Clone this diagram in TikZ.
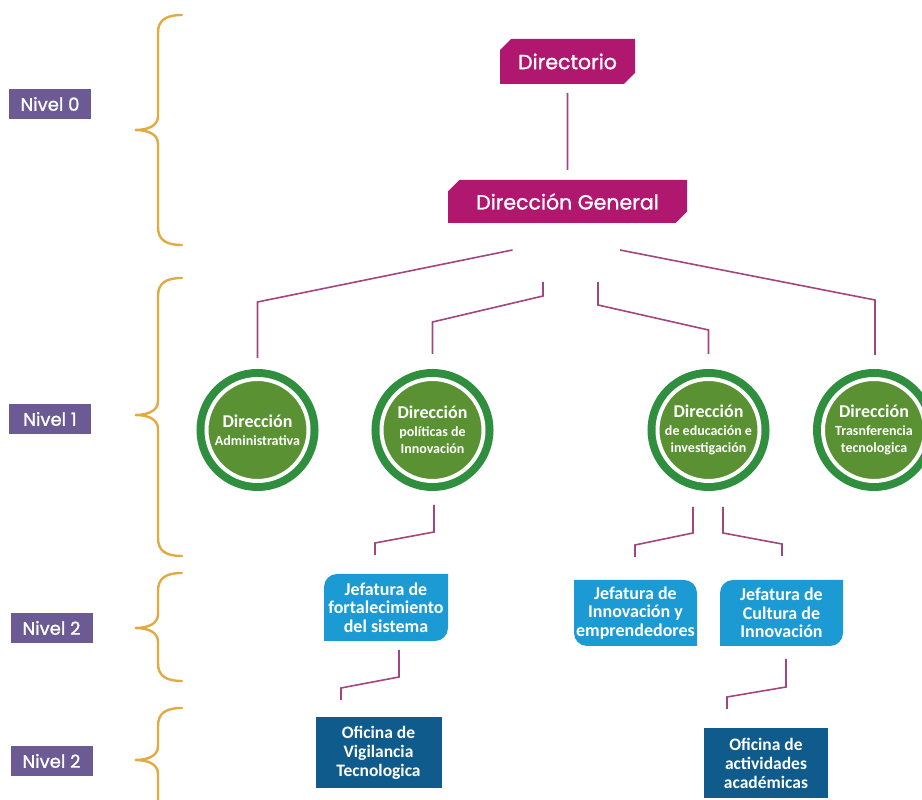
\documentclass[tikz,border=0pt]{standalone}
\usepackage{fontspec}
\setmainfont{Carlito}
\newfontfamily\poppins{Poppins}[FakeBold=1.2]
\usetikzlibrary{positioning, shapes.misc, backgrounds}

\definecolor{rosadir}{HTML}{B0176E}
\definecolor{morado}{HTML}{6B5A93}
\definecolor{oro}{HTML}{E2AA42}
\definecolor{lila}{HTML}{A3467F}
\definecolor{anillo}{HTML}{2F8F3E}
\definecolor{verde}{HTML}{5A9233}
\definecolor{celeste}{HTML}{1C9AD3}
\definecolor{marino}{HTML}{0E5B8C}

\begin{document}
\begin{tikzpicture} [x=1pt, y=1pt,
            nivel/.style = {fill=morado, text=white,
                font=\poppins\fontsize{18}{20}\selectfont,
                minimum width=82, minimum height=30, inner sep=0},
            llave/.style = {draw=oro, line width=2.4pt, line cap=round},
            titulo/.style = {chamfered rectangle,
                chamfered rectangle corners={north west, south east},
                chamfered rectangle xsep=9pt,
                fill=rosadir, text=white, inner sep=0, outer sep=0,
                font=\poppins\fontsize{20.5}{24}\selectfont},
            direc/.style = {circle, fill=verde, draw=white,
                line width=4pt, minimum size=102, inner sep=0,
                outer sep=10pt, text=white, align=center,
                font=\bfseries\fontsize{14}{17.5}\selectfont,
                preaction={draw=anillo, line width=20pt}},
            jefa/.style = {text=white, align=center, inner sep=0,
                outer sep=0, minimum width=124, minimum height=67,
                font=\bfseries\fontsize{18}{18.5}\selectfont},
            oficina/.style = {fill=marino, text=white, align=center,
                inner sep=0, outer sep=0, minimum width=126,
                minimum height=70,
                font=\bfseries\fontsize{17.5}{19}\selectfont},
            linea/.style = {draw=lila, line width=1.6pt}]

        \useasboundingbox (0,0) rectangle (922,800);

        % Niveles
        \node (n0) [nivel] at (50,696)   {Nivel 0};
        \node (n1) [nivel] at (50,381)   {Nivel 1};
        \node (n2) [nivel] at (51.5,172) {Nivel 2};
        \node (n3) [nivel] at (51.5,39)  {Nivel 2};

        % Llaves
        \draw [llave] (182,785) .. controls (166,785) and (158,780) .. (158,767)
            -- (158,684) .. controls (158,674) and (148,670) .. (135,670)
            .. controls (148,670) and (158,666) .. (158,656)
            -- (158,573) .. controls (158,560) and (166,555) .. (182,555);
        \draw [llave] (182,522) .. controls (166,522) and (158,517) .. (158,504)
            -- (158,399) .. controls (158,389) and (148,385) .. (135,385)
            .. controls (148,385) and (158,381) .. (158,371)
            -- (158,262) .. controls (158,249) and (166,244) .. (182,244);
        \draw [llave] (182,227) .. controls (166,227) and (158,222) .. (158,209)
            -- (158,186) .. controls (158,176) and (148,172) .. (135,172)
            .. controls (148,172) and (158,168) .. (158,158)
            -- (158,137) .. controls (158,124) and (166,119) .. (182,119);
        \draw [llave] (182,92) .. controls (166,92) and (158,87) .. (158,74)
            -- (158,54) .. controls (158,44) and (148,40) .. (135,40)
            .. controls (148,40) and (158,36) .. (158,26)
            -- (158,-20);

        % Directorio
        \node (dir) [titulo, minimum width=135, minimum height=45]
            at (567.5,738.5) {Directorio};

        % Direccion General
        \node (dg) [titulo, minimum width=239, minimum height=43]
            at (567.5,598.5) {Dirección General};

        % Direcciones
        \node (c1) [direc] at (257.5,370)
            {{\fontsize{18}{18}\selectfont Dirección}\\Administrativa};
        \node (c2) [direc] at (432.5,370)
            {{\fontsize{18}{18}\selectfont Dirección}\\políticas de\\Innovación};
        \node (c3) [direc] at (708.5,370)
            {{\fontsize{18}{18}\selectfont Dirección}\\de educación e\\investigación};
        \node (c4) [direc] at (874,370)
            {{\fontsize{18}{18}\selectfont Dirección}\\Trasnferencia\\tecnologica};

        % Jefaturas
        \node (b1) [jefa] at (386,192.5)
            {Jefatura de\\fortalecimiento\\del sistema};
        \node (b2) [jefa, minimum width=123, minimum height=66] at (635.5,187)
            {Jefatura de\\Innovación y\\emprendedores};
        \node (b3) [jefa, minimum width=123, minimum height=66] at (781.5,187)
            {Jefatura de\\Cultura de\\Innovación};

        \begin{scope}[on background layer]
            \fill [celeste] (b1.south west) -- ([yshift=-13]b1.north west)
                arc [start angle=180, end angle=90, radius=13]
                -- (b1.north east) -- ([yshift=13]b1.south east)
                arc [start angle=0, end angle=-90, radius=13] -- cycle;
            \fill [celeste] (b2.north west) -- ([xshift=-13]b2.north east)
                arc [start angle=90, end angle=0, radius=13]
                -- (b2.south east) -- ([xshift=13]b2.south west)
                arc [start angle=270, end angle=180, radius=13] -- cycle;
            \fill [celeste] (b3.south west) -- ([yshift=-13]b3.north west)
                arc [start angle=180, end angle=90, radius=13]
                -- (b3.north east) -- ([yshift=13]b3.south east)
                arc [start angle=0, end angle=-90, radius=13] -- cycle;
        \end{scope}

        % Oficinas
        \node (o1) [oficina, minimum height=71] at (378.5,47.5)
            {Oficina de\\Vigilancia\\Tecnologica};
        \node (o2) [oficina, minimum width=124] at (766,37)
            {Oficina de\\actividades\\académicas};

        % Lineas
        \draw [linea, shorten <=9pt, shorten >=10pt] (dir) -- (dg);

        \draw [linea] ([shift={(-55,-27)}]dg.south)
            -- ([yshift=67]c1.north) -- ([yshift=11]c1.north);
        \draw [linea] ([shift={(-24.5,-59)}]dg.south)
            -- ([shift={(-24.5,-73)}]dg.south)
            -- ([yshift=47]c2.north) -- ([yshift=15]c2.north);
        \draw [linea] ([shift={(30.5,-59)}]dg.south)
            -- ([shift={(30.5,-82)}]dg.south)
            -- ([yshift=39]c3.north) -- ([yshift=15]c3.north);
        \draw [linea] ([shift={(52.5,-27)}]dg.south)
            -- ([shift={(1,69)}]c4.north) -- ([shift={(1,14)}]c4.north);

        \draw [linea] ([shift={(1.5,-14)}]c2.south)
            -- ([shift={(1.5,-41)}]c2.south)
            -- ([shift={(-11,31)}]b1.north) -- ([shift={(-11,19)}]b1.north);
        \draw [linea] ([shift={(-15.5,-16)}]c3.south)
            -- ([shift={(-15.5,-42)}]c3.south)
            -- ([shift={(-0.5,35)}]b2.north) -- ([shift={(-0.5,23)}]b2.north);
        \draw [linea] ([shift={(14.5,-16)}]c3.south)
            -- ([shift={(14.5,-42)}]c3.south)
            -- ([shift={(0.5,36)}]b3.north) -- ([shift={(0.5,24)}]b3.north);

        \draw [linea] ([shift={(13,-9)}]b1.south)
            -- ([shift={(13,-36)}]b1.south)
            -- ([shift={(-37.5,29)}]o1.north) -- ([shift={(-37.5,17)}]o1.north);
        \draw [linea] ([shift={(4.5,-13)}]b3.south)
            -- ([shift={(4.5,-41)}]b3.south)
            -- ([shift={(-39,31)}]o2.north) -- ([shift={(-39,19)}]o2.north);
\end{tikzpicture}
\end{document}
